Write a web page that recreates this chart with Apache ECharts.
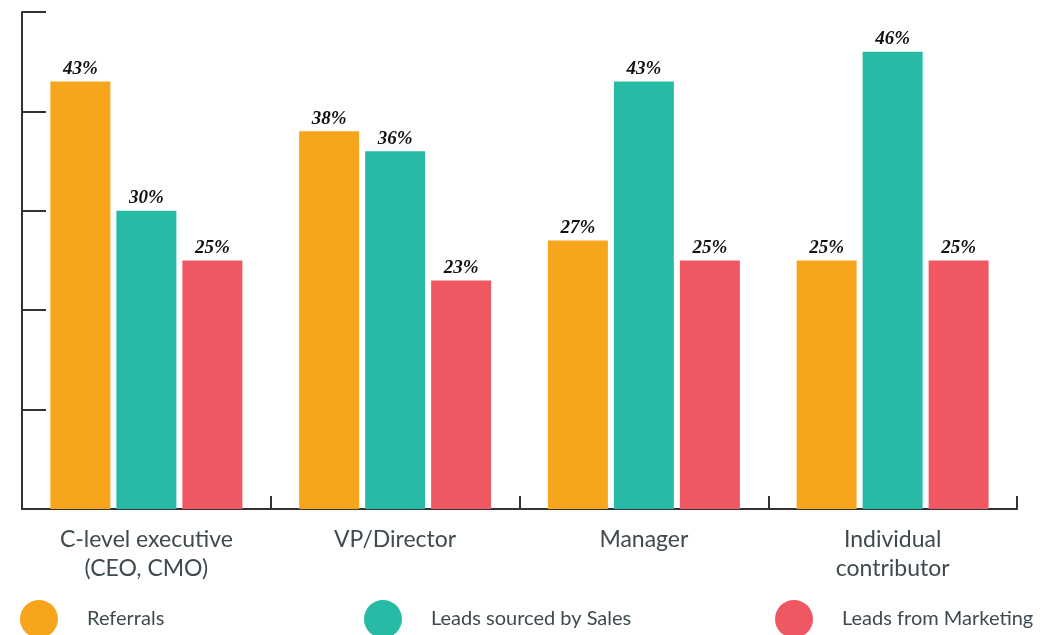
<!DOCTYPE html>
<html>
<head>
<meta charset="utf-8">
<title>Lead sources by role</title>
<script src="https://cdn.jsdelivr.net/npm/echarts@6/dist/echarts.min.js"></script>
<style>
	html, body { margin: 0; padding: 0; background: #ffffff; }
	#main { width: 1040px; height: 635px; }
</style>
</head>
<body>
<div id="main"></div>
<script>
/**
 * 数据
 * */
var categories = ['C-level executive\n(CEO, CMO)', 'VP/Director', 'Manager', 'Individual\ncontributor'];
var seriesNames = ['Referrals', 'Leads sourced by Sales', 'Leads from Marketing'];
var referrals = [43, 38, 27, 25];
var salesLeads = [30, 36, 43, 46];
var marketingLeads = [25, 23, 25, 25];
var colors = ['#f8a51e', '#27bba5', '#ef5862'];
// 图例位置（左侧像素）
var legendLeft = [15, 359, 770];

var chart = echarts.init(document.getElementById('main'));

//柱状图公用样式
function barSeries(name, values, color) {
	return {
		name: name,
		type: 'bar',
		data: values,
		barWidth: 60,
		barGap: '10%',
		itemStyle: { color: color },
		label: {
			show: true,
			position: 'top',
			distance: 3,
			formatter: '{c}%',
			color: '#111111',
			fontFamily: 'Liberation Serif',
			fontStyle: 'italic',
			fontWeight: 'bold',
			fontSize: 19
		}
	};
}

//每个图例单独放置
var legends = seriesNames.map(function(name, i) {
	return {
		data: [name],
		left: legendLeft[i],
		top: 595,
		icon: 'circle',
		itemWidth: 38,
		itemHeight: 38,
		selectedMode: false,
		textStyle: {
			color: '#3f4a50',
			fontFamily: 'Lato',
			fontSize: 20,
			padding: [0, 0, 0, 24]
		}
	};
});

var option = {
	animation: false,
	grid: {
		left: 22,
		right: 23,
		top: 12,
		bottom: 126
	},
	legend: legends,
	xAxis: {
		type: 'category',
		data: categories,
		axisLine: { lineStyle: { color: '#333333', width: 2 } },
		axisTick: { show: true, interval: 0, inside: true, length: 13, lineStyle: { color: '#333333', width: 2 } },
		axisLabel: {
			margin: 16,
			color: '#3f4a50',
			fontFamily: 'Lato',
			fontSize: 23,
			lineHeight: 29
		}
	},
	yAxis: {
		type: 'value',
		min: 0,
		max: 50,
		interval: 10,
		axisLine: { show: true, lineStyle: { color: '#333333', width: 2 } },
		axisTick: { show: true, inside: true, length: 24, lineStyle: { color: '#333333', width: 2 } },
		axisLabel: { show: false },
		splitLine: { show: false }
	},
	series: [
		barSeries(seriesNames[0], referrals, colors[0]),
		barSeries(seriesNames[1], salesLeads, colors[1]),
		barSeries(seriesNames[2], marketingLeads, colors[2])
	]
};

chart.setOption(option);
</script>
</body>
</html>
